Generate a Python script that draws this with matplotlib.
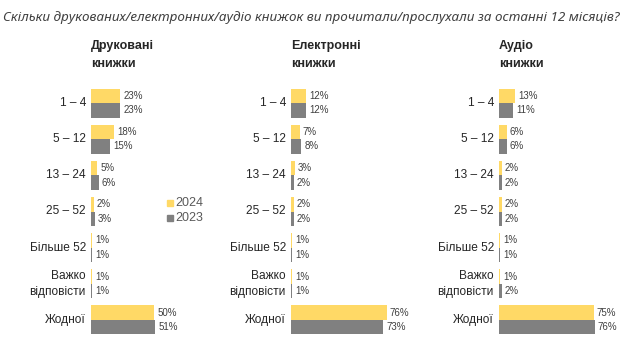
import matplotlib.pyplot as plt
from matplotlib.patches import Rectangle

# categories (top to bottom)
categories = ['1 – 4', '5 – 12', '13 – 24', '25 – 52', 'Більше 52',
              'Важко\nвідповісти', 'Жодної']
panel_titles = ['Друковані\nкнижки', 'Електронні\nкнижки', 'Аудіо\nкнижки']

printed_2024 = [23, 18, 5, 2, 1, 1, 50]
printed_2023 = [23, 15, 6, 3, 1, 1, 51]
ebook_2024 = [12, 7, 3, 2, 1, 1, 76]
ebook_2023 = [12, 8, 2, 2, 1, 1, 73]
audio_2024 = [13, 6, 2, 2, 1, 1, 75]
audio_2023 = [11, 6, 2, 2, 1, 2, 76]

title = 'Скільки друкованих/електронних/аудіо книжок ви прочитали/прослухали за останні 12 місяців?'

YELLOW = '#FFD966'
GRAY = '#808080'
TXT = '#262626'

W, H = 633, 349
fig = plt.figure(figsize=(W / 100, H / 100), dpi=100)
plt.rcParams['font.family'] = ['Liberation Sans', 'DejaVu Sans']

fig.text(3 / W, 1 - 18 / H, title, fontsize=9.7, style='italic',
         family=['Noto Sans', 'DejaVu Sans'], color='#404040',
         ha='left', va='center')

panels = [
    (91, panel_titles[0], printed_2024, printed_2023),
    (291, panel_titles[1], ebook_2024, ebook_2023),
    (499, panel_titles[2], audio_2024, audio_2023),
]

px_per_pct = 1.26
top_px, bot_px = 85, 338
bh = 0.4

for left_px, ptitle, v24, v23 in panels:
    ax = fig.add_axes([left_px / W, 1 - bot_px / H,
                       100 * px_per_pct / W, (bot_px - top_px) / H])
    ax.set_xlim(0, 100)
    ax.set_ylim(len(categories) - 0.5, -0.5)
    ax.axis('off')
    ys = range(len(categories))
    ax.barh([y - bh / 2 for y in ys], v24, height=bh, color=YELLOW)
    ax.barh([y + bh / 2 for y in ys], v23, height=bh, color=GRAY)
    dx = 2.5
    for y, a, b in zip(ys, v24, v23):
        ax.text(a + dx, y - bh / 2, f'{a}%', fontsize=7, color='#404040',
                va='center', ha='left', clip_on=False)
        ax.text(b + dx, y + bh / 2, f'{b}%', fontsize=7, color='#404040',
                va='center', ha='left', clip_on=False)
        ax.text(-4, y, categories[y], fontsize=8.6, color=TXT, va='center',
                ha='right', multialignment='right', linespacing=1.5,
                clip_on=False)
    fig.text(left_px / W, 1 - 55 / H, ptitle, fontsize=9, weight='bold',
             color=TXT, ha='left', va='center', linespacing=1.6)

# legend
for yy, lab, col in [(203, '2024', YELLOW), (218, '2023', GRAY)]:
    fig.patches.append(Rectangle((167 / W, 1 - (yy + 3) / H), 6 / W, 6 / H,
                                 transform=fig.transFigure, color=col))
    fig.text(175 / W, 1 - yy / H, lab, fontsize=9, color='#595959',
             ha='left', va='center')

fig.savefig('out.png', dpi=100)
